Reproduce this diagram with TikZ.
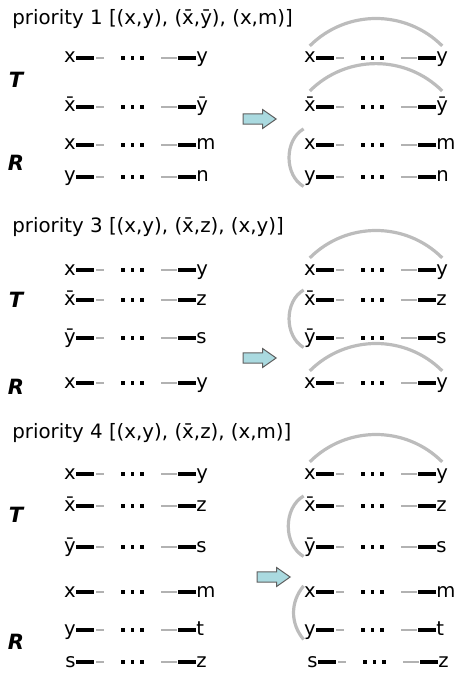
\documentclass[tikz,border=0pt]{standalone}
\usepackage{fontspec}
\setmainfont{DejaVu Sans}
\usetikzlibrary{shapes.arrows, calc}
\definecolor{LinkGray}{RGB}{188, 188, 188}
\definecolor{DashGray}{RGB}{178, 178, 178}
\definecolor{ArrowCyan}{RGB}{170, 218, 224}
\definecolor{ArrowEdge}{RGB}{95, 95, 95}

\newcommand{\pairrow}[5]{%
  \coordinate (#1) at (#2,#3);
  \node[endlabel, anchor=base east] (#1l) at (#2+11,#3+5) {#4};
  \node[endlabel, anchor=base west] (#1r) at (#2+131,#3+5) {#5};
  \foreach \k in {47,56.5,66} \node[dotmark] (#1d\k) at ($(#1l.east |- #1)+(\k,0)$) {};
  \draw[solidend] (#1l.east |- #1) -- ++(18,0);
  \draw[fadedend] (#1l.east |- #1) ++(20,0) -- ++(8,0);
  \draw[solidend] (#1r.west |- #1) -- ++(-18,0);
  \draw[fadedend] (#1r.west |- #1) ++(-19,0) -- ++(-16,0);
}

\begin{document}
\begin{tikzpicture}[x=0.5pt, y=-0.5pt,
    endlabel/.style={inner sep=0pt, font=\fontsize{9.8}{11}\selectfont},
    heading/.style={inner sep=0pt, anchor=base west, font=\fontsize{9.9}{11}\selectfont},
    setname/.style={inner sep=0pt, font=\fontsize{10.5}{12}\selectfont\bfseries\itshape},
    dotmark/.style={rectangle, fill=black, inner sep=0pt, minimum size=1.8pt},
    solidend/.style={line width=1.6pt},
    fadedend/.style={draw=DashGray, line width=1.1pt},
    link/.style={draw=LinkGray, line width=1.6pt},
    shiftarrow/.style={single arrow, draw=ArrowEdge, fill=ArrowCyan, line width=0.5pt,
      minimum height=16.5pt, inner xsep=0pt, inner ysep=2.3pt,
      single arrow head extend=2.2pt, single arrow tip angle=70}
  ]
  \useasboundingbox (0,0) rectangle (455,679);

  % priority 1
  \node[heading] (atitle) at (12,25) {priority 1 [(x,y), (\=x,\=y), (x,m)]};
  \node[setname] (aT) at (16,80) {T};
  \node[setname] (aR) at (16,163) {R};
  \pairrow{aL1}{65}{58}{x}{y}
  \pairrow{aL2}{65}{107}{\=x}{\=y}
  \pairrow{aL3}{65}{145}{x}{m}
  \pairrow{aL4}{65}{177}{y}{n}
  \node[shiftarrow] (aarrow) at (256,119) {};
  \pairrow{aR1}{305}{58}{x}{y}
  \pairrow{aR2}{305}{107}{\=x}{\=y}
  \pairrow{aR3}{305}{145}{x}{m}
  \pairrow{aR4}{305}{177}{y}{n}
  \draw[link] ([yshift=3pt]aR1l.north) to[bend left=45] ([yshift=3pt]aR1r.north);
  \draw[link] ([yshift=3pt]aR2l.north) to[bend left=45] ([yshift=3pt]aR2r.north);
  \draw[link] ([yshift=5pt]aR3l.north west) to[bend right=60] (aR4l.south west);

  % priority 3
  \node[heading] (btitle) at (12,233) {priority 3 [(x,y), (\=x,z), (x,y)]};
  \node[setname] (bT) at (16,300) {T};
  \node[setname] (bR) at (16,387) {R};
  \pairrow{bL1}{65}{270}{x}{y}
  \pairrow{bL2}{65}{300}{\=x}{z}
  \pairrow{bL3}{65}{338}{\=y}{s}
  \pairrow{bL4}{65}{383}{x}{y}
  \node[shiftarrow] (barrow) at (256,358) {};
  \pairrow{bR1}{305}{270}{x}{y}
  \pairrow{bR2}{305}{300}{\=x}{z}
  \pairrow{bR3}{305}{338}{\=y}{s}
  \pairrow{bR4}{305}{383}{x}{y}
  \draw[link] ([yshift=3pt]bR1l.north) to[bend left=45] ([yshift=3pt]bR1r.north);
  \draw[link] (bR2l.north west) to[bend right=60] (bR3l.south west);
  \draw[link] ([yshift=3pt]bR4l.north) to[bend left=45] ([yshift=3pt]bR4r.north);

  % priority 4
  \node[heading] (ctitle) at (12,438) {priority 4 [(x,y), (\=x,z), (x,m)]};
  \node[setname] (cT) at (16,515) {T};
  \node[setname] (cR) at (16,642) {R};
  \pairrow{cL1}{65}{474}{x}{y}
  \pairrow{cL2}{65}{506}{\=x}{z}
  \pairrow{cL3}{65}{547}{\=y}{s}
  \pairrow{cL4}{65}{592}{x}{m}
  \pairrow{cL5}{65}{630}{y}{t}
  \pairrow{cL6}{65}{662}{s}{z}
  \node[shiftarrow] (carrow) at (270,577) {};
  \pairrow{cR1}{305}{474}{x}{y}
  \pairrow{cR2}{305}{506}{\=x}{z}
  \pairrow{cR3}{305}{547}{\=y}{s}
  \pairrow{cR4}{305}{592}{x}{m}
  \pairrow{cR5}{305}{630}{y}{t}
  \pairrow{cR6}{307}{662}{s}{z}
  \draw[link] ([yshift=3pt]cR1l.north) to[bend left=45] ([yshift=3pt]cR1r.north);
  \draw[link] (cR2l.north west) to[bend right=60] (cR3l.south west);
  \draw[link] (cR4l.north west) to[bend right=40] (cR5l.south west);
\end{tikzpicture}
\end{document}
